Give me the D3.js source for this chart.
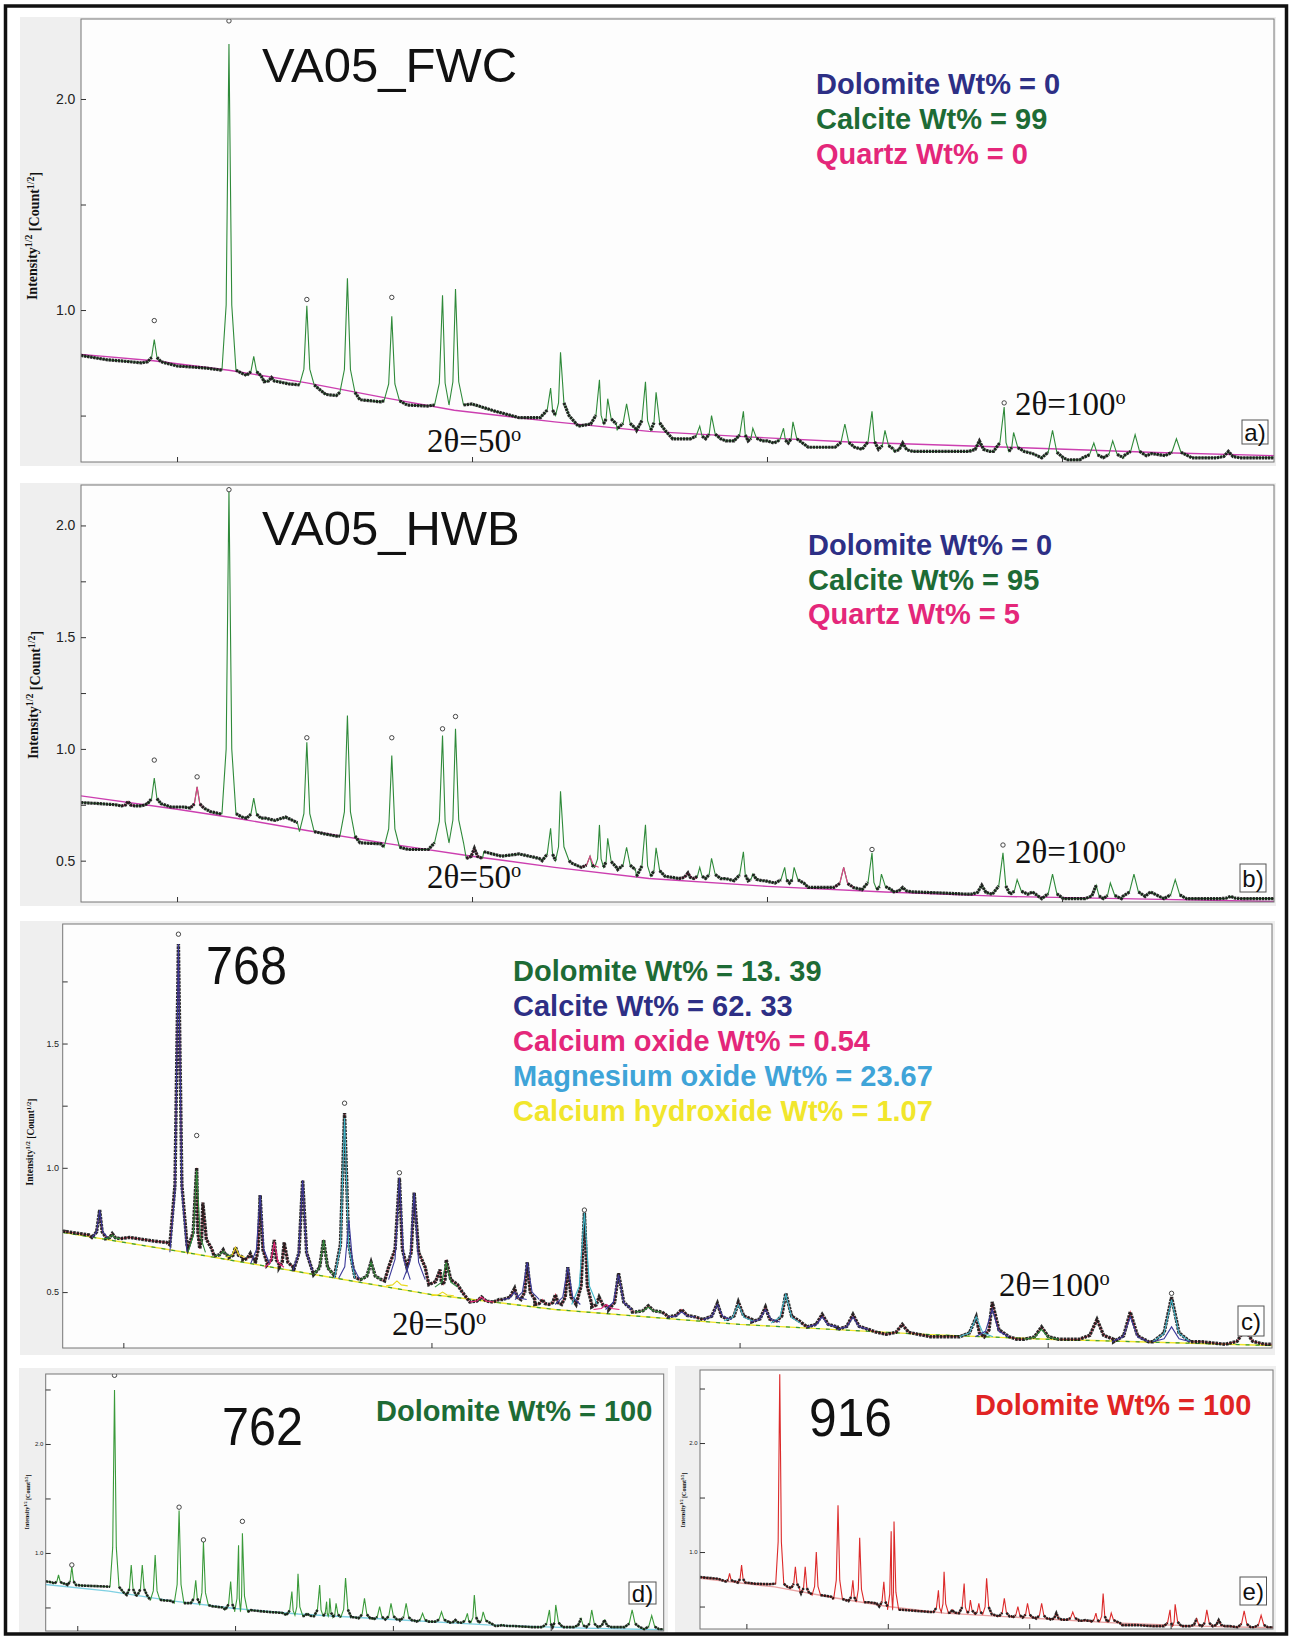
<!DOCTYPE html>
<html>
<head>
<meta charset="utf-8">
<script src="https://cdn.jsdelivr.net/npm/d3@7"></script>
<style>
  body { margin: 0; background: #fff; }
  svg text { font-family: "Liberation Sans", Arial, sans-serif; }
</style>
</head>
<body>
<div id="chart"></div>
<script>
var aBg = [[16.86,0.79],[23,0.76],[29.4,0.715],[36,0.655],[43,0.58],[48.5,0.525],[57,0.47],[65,0.425],[73,0.40],[82,0.375],[95.5,0.35],[108,0.325],[117.97,0.31]];
var aPeaks = [[23.07,0.86,0.755,0.95],[29.4,2.26,0.715,2.37],[31.5,0.78,0.69],[33.0,0.68,0.66],[36.0,1.02,0.645,1.05],
  [39.44,1.15,0.61],[43.2,0.97,0.57,1.06],[47.5,1.07,0.55],[48.6,1.10,0.55],[56.66,0.63,0.50],[57.5,0.80,0.50],
  [60.8,0.67,0.46],[61.5,0.58,0.46],[63.1,0.555,0.44],[64.7,0.66,0.43],[65.6,0.61,0.43],[69.3,0.45,0.39],[70.3,0.50,0.39],
  [73.0,0.52,0.38],[73.8,0.44,0.38],[76.4,0.44,0.37],[77.2,0.47,0.37],[81.6,0.46,0.35],[83.9,0.52,0.34],[85.0,0.43,0.34],
  [86.5,0.37,0.33],[93.0,0.38,0.33],[95.1,0.54,0.33,0.56],[95.9,0.42,0.33],[99.2,0.43,0.30],[102.7,0.37,0.30],
  [104.3,0.38,0.30],[106.2,0.41,0.31],[109.7,0.39,0.31],[114.1,0.33,0.30]];
var aTroughs = [[16.86,0.785],[19,0.765],[22,0.75],[25,0.735],[27.5,0.725],[30.5,0.70],[34.5,0.65],[37.6,0.60],[38.5,0.595],
  [40.5,0.575],[42.3,0.565],[44.5,0.55],[46.2,0.545],[50,0.555],[52,0.52],[54,0.49],[55.8,0.49],[59,0.45],[62.3,0.43],
  [67,0.39],[68.5,0.39],[71.5,0.38],[75,0.38],[78.5,0.35],[80.5,0.35],[87.5,0.33],[90.5,0.33],[92.2,0.33],[97.5,0.32],
  [100.5,0.29],[101.5,0.29],[107.6,0.32],[111,0.30],[113,0.30],[116,0.30],[117.97,0.30]];

var bBg = [[16.86,0.79],[25,0.73],[30,0.69],[36,0.635],[43,0.575],[50,0.52],[57,0.47],[65,0.42],[75,0.385],[85,0.36],[95,0.34],[105,0.33],[117.97,0.317]];
var bPeaks = [[20.85,0.765,0.745],[23.07,0.87,0.755,0.95],[26.7,0.83,0.735,0.875],[29.4,2.16,0.71,2.16],[31.5,0.78,0.69],
  [36.0,1.03,0.63,1.05],[39.44,1.15,0.61],[43.2,0.97,0.56,1.05],[47.5,1.06,0.58,1.09],[48.6,1.09,0.58,1.145],[50.2,0.555,0.51],
  [56.66,0.645,0.50],[57.5,0.81,0.50],[60.0,0.52,0.47],[60.8,0.66,0.47],[61.5,0.60,0.47],[63.1,0.56,0.46],[64.7,0.66,0.43],
  [65.6,0.557,0.43],[68.3,0.445,0.42],[69.3,0.47,0.42],[70.3,0.51,0.42],[73.0,0.54,0.41],[73.8,0.44,0.41],[76.5,0.47,0.40],
  [77.3,0.47,0.40],[81.5,0.47,0.38],[83.9,0.535,0.37,0.55],[84.7,0.44,0.37],[86.5,0.38,0.36],[93.2,0.39,0.35],
  [95.0,0.535,0.35,0.57],[96.2,0.415,0.35],[99.2,0.44,0.33],[102.9,0.39,0.33],[104.1,0.40,0.33],[106.1,0.44,0.34],
  [109.6,0.415,0.33],[114.3,0.34,0.33]];
var bTroughs = [[16.86,0.76],[18.5,0.755],[19.8,0.75],[22,0.745],[24.5,0.74],[25.6,0.74],[27.8,0.72],[28.6,0.71],[30.5,0.695],
  [32.5,0.69],[33.3,0.68],[34.2,0.695],[35.2,0.67],[37.5,0.62],[38.5,0.61],[40.5,0.58],[42.3,0.575],[44.6,0.55],[46.3,0.55],
  [49.5,0.55],[51,0.54],[52.5,0.52],[54,0.53],[55.7,0.51],[58.4,0.49],[59.3,0.49],[62.2,0.47],[67,0.425],[71.5,0.42],
  [74.8,0.41],[78.5,0.38],[80.5,0.38],[87.5,0.36],[90,0.355],[92,0.35],[97.5,0.36],[100.3,0.33],[101.8,0.33],[107.5,0.36],
  [111.5,0.33],[113,0.33],[116,0.33],[117.97,0.33]];
var bQuartz = [[20.85,0.765,0.745],[26.7,0.83,0.735],[50.2,0.555,0.51],[60.0,0.52,0.47],[68.3,0.445,0.42],[81.5,0.47,0.38]];

var cBg = [[20.08,0.74],[30,0.66],[40,0.575],[50,0.49],[60,0.43],[75,0.37],[90,0.33],[100,0.31],[118.2,0.285]];
var cPeaks = [[23.08,0.83,0.72],[24.1,0.735,0.715],[29.47,1.90,0.69,1.94],[30.95,1.00,0.675,1.13],[31.45,0.86,0.675],
  [33.1,0.67,0.645],[34.1,0.68,0.64],[35.3,0.655,0.63],[36.1,0.89,0.615],[37.25,0.71,0.61],[38.05,0.70,0.60],
  [39.55,0.95,0.585],[41.25,0.71,0.57],[42.95,1.22,0.56,1.26],[45.1,0.62,0.55],[47.4,0.96,0.60,0.98],[48.6,0.90,0.60],
  [50.7,0.59,0.53],[51.2,0.63,0.53],[54.06,0.48,0.46],[56.75,0.515,0.47],[57.77,0.62,0.47],[59.0,0.47,0.45],
  [60.06,0.49,0.45],[61.06,0.60,0.45],[62.41,0.82,0.45,0.83],[63.6,0.48,0.44],[65.18,0.576,0.43],[67.6,0.445,0.42],
  [70.3,0.43,0.40],[73.2,0.455,0.39],[74.9,0.46,0.39],[77.1,0.44,0.38],[78.75,0.495,0.38],[81.7,0.41,0.36],
  [84.2,0.41,0.35],[88.2,0.37,0.33],[94.2,0.40,0.32],[95.5,0.46,0.32],[99.5,0.36,0.31],[104.0,0.39,0.31],
  [106.7,0.42,0.30],[110.05,0.48,0.30,0.495],[116,0.35,0.29]];
var cTroughs = [[20.08,0.745],[21.5,0.735],[22.2,0.73],[25.5,0.72],[27.5,0.705],[28.5,0.70],[32.2,0.66],[40.4,0.575],
  [44.0,0.555],[46.2,0.545],[49.8,0.54],[52.5,0.50],[55.5,0.47],[66.3,0.42],[69.0,0.41],[72,0.39],[76,0.38],[80.2,0.37],
  [83,0.355],[86,0.34],[90.5,0.32],[92.3,0.32],[97.5,0.31],[101.8,0.31],[108.4,0.30],[112.5,0.30],[114.5,0.29],[118.2,0.29]];
var cCalcite = [[23.08,0.83,0.72],[29.47,1.90,0.66],[36.1,0.89,0.615],[39.55,0.95,0.585],[43.3,0.79,0.555],[47.4,0.96,0.55],
  [48.6,0.90,0.55],[56.75,0.50,0.47],[57.77,0.62,0.47],[61.06,0.60,0.45],[65.18,0.57,0.43],[70.3,0.42,0.40],[73.2,0.45,0.39],
  [77.1,0.43,0.38],[81.7,0.40,0.36],[84.2,0.40,0.35],[95.5,0.43,0.32],[106.7,0.40,0.30],[110.05,0.36,0.30]];
var cDolomite = [[24.1,0.73,0.715],[30.95,0.99,0.66],[33.1,0.665,0.645],[41.25,0.71,0.57],[45.1,0.62,0.55],[51.2,0.62,0.52],
  [67.6,0.44,0.42],[99.5,0.35,0.31]];
var cCaO = [[37.25,0.70,0.60],[54.06,0.48,0.46],[64.2,0.45,0.43]];
var cMgO = [[42.95,1.20,0.555],[62.41,0.82,0.45],[74.9,0.45,0.385],[78.75,0.49,0.375],[94.2,0.40,0.32],[110.05,0.47,0.30]];
var cCaOH = [[34.1,0.68,0.64],[47.2,0.545,0.525],[50.9,0.50,0.485]];

var dBg = [[20,0.71],[30,0.65],[40,0.56],[50,0.49],[60,0.44],[75,0.39],[90,0.34],[105,0.31],[117.9,0.295]];
var dPeaks = [[22.03,0.80,0.72],[24.14,0.875,0.706,0.89],[30.9,2.495,0.69,2.63],[33.55,0.89,0.615],[35.3,0.89,0.615],
  [37.34,0.98,0.57],[41.13,1.39,0.54,1.42],[43.77,0.75,0.54],[44.99,1.10,0.52,1.12],[49.3,0.737,0.48],[50.55,1.07,0.46],
  [51.16,1.18,0.46,1.29],[59.0,0.645,0.43],[59.97,0.81,0.43],[61.4,0.446,0.42],[63.4,0.706,0.42],[64.5,0.553,0.42],
  [65.0,0.584,0.42],[66.0,0.538,0.41],[67.5,0.77,0.41],[70.5,0.584,0.40],[72.9,0.508,0.39],[74.7,0.538,0.39],
  [77.1,0.538,0.38],[79.7,0.446,0.37],[82.7,0.46,0.37],[84.9,0.385,0.36],[86.8,0.446,0.36],[87.9,0.615,0.36],
  [89.3,0.46,0.36],[92.3,0.34,0.33],[99.8,0.477,0.32],[100.8,0.523,0.32],[104.8,0.40,0.32],[106.5,0.477,0.32],
  [108.5,0.385,0.32],[112.9,0.477,0.32],[116.0,0.425,0.30]];
var dTroughs = [[20.0,0.74],[21,0.73],[23.1,0.72],[26,0.70],[28.5,0.695],[32.3,0.64],[34.4,0.61],[36.3,0.59],[38.8,0.565],
  [40,0.56],[42.5,0.54],[46.5,0.51],[48,0.50],[52.5,0.475],[55,0.46],[57.5,0.45],[60.7,0.43],[62.3,0.42],[69,0.41],
  [71.8,0.40],[76,0.39],[78.4,0.38],[81.2,0.37],[83.8,0.37],[85.8,0.36],[91,0.34],[94,0.33],[97,0.32],[98.7,0.32],
  [102.5,0.32],[110.5,0.32],[114.5,0.31],[117.9,0.30]];

var eBg = [[16.8,0.76],[30,0.68],[40,0.585],[50,0.50],[60,0.44],[75,0.395],[90,0.35],[105,0.32],[118.1,0.305]];
var ePeaks = [[22.03,0.805,0.73],[24.15,0.88,0.72],[30.9,2.63,0.71],[33.66,0.865,0.67],[35.4,0.865,0.62],[37.36,1.00,0.605],
  [41.2,1.43,0.57],[43.83,0.74,0.55],[45.03,1.13,0.54],[49.3,0.727,0.50],[50.6,1.19,0.47],[51.1,1.28,0.47],
  [58.95,0.65,0.45],[59.95,0.82,0.45],[61.4,0.47,0.44],[63.5,0.71,0.44],[64.6,0.56,0.44],[66.1,0.53,0.43],
  [67.47,0.76,0.43],[70.6,0.575,0.41],[73.0,0.50,0.40],[74.7,0.53,0.40],[77.2,0.53,0.39],[79.8,0.44,0.38],
  [82.7,0.45,0.38],[84.9,0.376,0.37],[86.8,0.44,0.36],[88.07,0.62,0.36],[89.5,0.44,0.36],[92.5,0.33,0.33],
  [99.9,0.47,0.32],[100.8,0.52,0.32],[104.6,0.39,0.32],[106.4,0.47,0.32],[108.5,0.376,0.32],[113.0,0.46,0.31],
  [116.0,0.42,0.31]];
var eTroughs = [[16.8,0.77],[20,0.755],[23.1,0.73],[26.5,0.71],[29,0.705],[32.3,0.68],[34.5,0.64],[36.4,0.62],[38.8,0.60],
  [40,0.59],[42.5,0.56],[46.6,0.54],[48,0.53],[52.5,0.47],[55,0.46],[57.5,0.45],[60.7,0.44],[62.3,0.44],[69,0.42],
  [72,0.41],[76,0.40],[78.5,0.39],[81.2,0.38],[83.8,0.37],[85.8,0.37],[91,0.35],[94,0.33],[97,0.32],[98.7,0.32],
  [102.5,0.32],[110.5,0.32],[114.5,0.31],[118.1,0.31]];

var xTicks = [25, 50, 75, 100];
var legendA = ["Dolomite Wt% = 0", "Calcite Wt% = 99", "Quartz Wt% = 0"];
var legendB = ["Dolomite Wt% = 0", "Calcite Wt% = 95", "Quartz Wt% = 5"];
var legendC = ["Dolomite Wt% = 13. 39", "Calcite Wt% = 62. 33", "Calcium oxide Wt% = 0.54",
  "Magnesium oxide Wt% = 23.67", "Calcium hydroxide Wt% = 1.07"];
var legendD = ["Dolomite Wt% = 100"];
var legendE = ["Dolomite Wt% = 100"];

// ---- layout ----
var navy = "#2d2f85", dkGreen = "#1d6b35", pink = "#e4277a", sky = "#3fa4d8", yellow = "#f1e62c";

var panels = [
  { id: "a)", grey: [20, 17, 1256, 449], frame: [81, 19, 1274, 462], xDom: [16.86, 117.97], yDom: [0.28, 2.379],
    peaks: aPeaks, troughs: aTroughs, bg: aBg, wRange: [0.55, 1.0], calc: "#2f8a3a", bgColor: "#cc3fb0",
    yTicks: [0.5, 1, 1.5, 2], yLabels: [1, 2], tickFont: 14, steep: 2.5, obsW: 3.2, dash: "2.4 0.7",
    yTitle: { x: 34, y: 236, fs: 14 }, title: { t: "VA05_FWC", x: 262, y: 82, fs: 49 },
    legend: { lines: legendA, colors: [navy, dkGreen, pink], x: 816, y: 94, dy: 35, fs: 29 },
    theta: [{ t: "50", x: 427, y: 452 }, { t: "100", x: 1015, y: 415 }], box: [1242, 420, 26, 24, 24] },
  { id: "b)", grey: [20, 483, 1256, 423], frame: [81, 485, 1274, 902], xDom: [16.86, 117.97], yDom: [0.315, 2.181],
    peaks: bPeaks, troughs: bTroughs, bg: bBg, wRange: [0.55, 1.0], calc: "#2f8a3a", bgColor: "#cc3fb0",
    overlays: [{ data: bQuartz, color: "#e0408a" }],
    yTicks: [0.5, 0.75, 1, 1.25, 1.5, 1.75, 2], yLabels: [0.5, 1, 1.5, 2], tickFont: 14, steep: 2.5, obsW: 3.2, dash: "2.4 0.7",
    yTitle: { x: 35, y: 695, fs: 14 }, title: { t: "VA05_HWB", x: 262, y: 545, fs: 49 },
    legend: { lines: legendB, colors: [navy, dkGreen, pink], x: 808, y: 555, dy: 34.5, fs: 29 },
    theta: [{ t: "50", x: 427, y: 888 }, { t: "100", x: 1015, y: 863 }], box: [1240, 864, 26, 28, 24] },
  { id: "c)", grey: [20, 921, 1255, 434], frame: [62.7, 924, 1272, 1348], xDom: [20.08, 118.2], yDom: [0.275, 1.981],
    peaks: cPeaks, troughs: cTroughs, bg: cBg, wRange: [0.6, 1.6], calc: "#e2405e", bgColor: yellow, bgDash: "#3a9a3a",
    overlays: [{ data: cCaOH, color: "#e8d81c" }, { data: cCaO, color: "#e4277a" }, { data: cDolomite, color: "#2f8a3a" },
               { data: cMgO, color: "#3fb7c9" }, { data: cCalcite, color: "#3c3a9a" }], overlaysOnTop: true,
    yTicks: [0.5, 0.75, 1, 1.25, 1.5, 1.75], yLabels: [0.5, 1, 1.5], tickFont: 9, steep: 1000, obsW: 3.4, dash: "2.6 0.9",
    yTitle: { x: 31, y: 1142, fs: 9.5 }, title: { t: "768", x: 206, y: 984, fs: 54, len: 81 },
    legend: { lines: legendC, colors: [dkGreen, navy, pink, sky, yellow], x: 513, y: 981, dy: 35, fs: 29 },
    theta: [{ t: "50", x: 392, y: 1335 }, { t: "100", x: 999, y: 1296 }], box: [1238, 1306, 26, 30, 24] },
  { id: "d)", grey: [19, 1368, 649, 266], frame: [45.7, 1374, 663.7, 1631], xDom: [20.0, 117.9], yDom: [0.284, 2.642],
    peaks: dPeaks, troughs: dTroughs, bg: dBg, wRange: [0.65, 1.2], calc: "#3a9a3a", bgColor: "#7fd0e2",
    yTicks: [0.5, 1, 1.5, 2, 2.5], yLabels: [1, 2], tickFont: 6, steep: 2.5, obsW: 2.6, dash: "2.4 0.7",
    yTitle: { x: 28, y: 1502, fs: 6 }, title: { t: "762", x: 222, y: 1445, fs: 54, len: 81 },
    legend: { lines: legendD, colors: [dkGreen], x: 376, y: 1421, dy: 0, fs: 29 },
    theta: [], box: [629, 1582, 27, 22, 24] },
  { id: "e)", grey: [675, 1366, 601, 268], frame: [700, 1370, 1273, 1629], xDom: [16.8, 118.1], yDom: [0.294, 2.67],
    peaks: ePeaks, troughs: eTroughs, bg: eBg, wRange: [0.65, 1.2], calc: "#dc2a2a", bgColor: "#e9a3a3",
    yTicks: [0.5, 1, 1.5, 2, 2.5], yLabels: [1, 2], tickFont: 6, steep: 2.5, obsW: 2.6, dash: "2.4 0.7",
    yTitle: { x: 684, y: 1500, fs: 6 }, title: { t: "916", x: 809, y: 1436, fs: 54, len: 83 },
    legend: { lines: legendE, colors: ["#e02424"], x: 975, y: 1415, dy: 0, fs: 29 },
    theta: [], box: [1240, 1577, 26.5, 28, 24] }
];

var svg = d3.select("#chart").append("svg")
  .attr("width", 1290)
  .attr("height", 1638);

svg.append("rect").attr("width", 1290).attr("height", 1638).attr("fill", "#fff");

// one peak drawn as a narrow spike between its feet
function spike(p, lo, hi) {
  var s = p[2] + (p[1] - p[2]) * 0.2;
  return [[lo, p[2]], [p[0] - (p[0] - lo) * 0.4, s], [p[0], p[1]], [p[0] + (hi - p[0]) * 0.4, s], [hi, p[2]]];
}

function buildProfile(peaks, troughs, w) {
  var sorted = peaks.slice().sort(function(a, b) { return a[0] - b[0]; });
  var pts = [], spans = [];
  sorted.forEach(function(p, i) {
    var lo = p[0] - w(p[0]), hi = p[0] + w(p[0]);
    if (i > 0) lo = Math.max(lo, (p[0] + sorted[i - 1][0]) / 2);
    if (i < sorted.length - 1) hi = Math.min(hi, (p[0] + sorted[i + 1][0]) / 2);
    spans.push([lo, hi]);
    pts = pts.concat(spike(p, lo, hi));
  });
  troughs.forEach(function(t) {
    var inside = spans.some(function(s) { return t[0] > s[0] - 0.05 && t[0] < s[1] + 0.05; });
    if (!inside) pts.push(t);
  });
  return pts.sort(function(a, b) { return a[0] - b[0]; });
}

panels.forEach(function(p, k) {
  var f = p.frame;
  var x = d3.scaleLinear().domain(p.xDom).range([f[0], f[2]]);
  var y = d3.scaleLinear().domain(p.yDom).range([f[3], f[1]]);
  var w = d3.scaleLinear().domain([20, 118]).range(p.wRange);
  var line = d3.line().x(function(d) { return x(d[0]); }).y(function(d) { return y(d[1]); });

  var g = svg.append("g");
  g.append("rect").attr("x", p.grey[0]).attr("y", p.grey[1]).attr("width", p.grey[2]).attr("height", p.grey[3])
    .attr("fill", "#efefef");
  g.append("rect").attr("x", f[0]).attr("y", f[1]).attr("width", f[2] - f[0]).attr("height", f[3] - f[1])
    .attr("fill", "#fdfdfd");

  svg.append("clipPath").attr("id", "clip" + k)
    .append("rect").attr("x", f[0]).attr("y", f[1]).attr("width", f[2] - f[0]).attr("height", f[3] - f[1]);
  var plot = g.append("g").attr("clip-path", "url(#clip" + k + ")");

  var prof = buildProfile(p.peaks, p.troughs, w);

  // background
  plot.append("path").datum(p.bg).attr("d", line).attr("fill", "none")
    .attr("stroke", p.bgColor).attr("stroke-width", 1.4);
  if (p.bgDash) {
    plot.append("path").datum(p.bg).attr("d", line).attr("fill", "none")
      .attr("stroke", p.bgDash).attr("stroke-width", 1.2).attr("stroke-dasharray", "4 6");
  }

  // calculated profile
  plot.append("path").datum(prof).attr("d", line).attr("fill", "none")
    .attr("stroke", p.calc).attr("stroke-width", 1.1);

  // phase contributions
  function drawOverlays() {
    (p.overlays || []).forEach(function(o) {
      plot.selectAll(null).data(o.data).enter().append("path")
        .attr("d", function(d) { return line(spike(d, d[0] - w(d[0]), d[0] + w(d[0]))); })
        .attr("fill", "none")
        .attr("stroke", o.color)
        .attr("stroke-width", 1.1);
    });
  }
  if (!p.overlaysOnTop) drawOverlays();

  // observed points: beaded dark trace, left off on the steep peak flanks
  var runs = [], run = [prof[0]];
  for (var i = 1; i < prof.length; i++) {
    var dx = Math.abs(x(prof[i][0]) - x(prof[i - 1][0]));
    var dy = Math.abs(y(prof[i][1]) - y(prof[i - 1][1]));
    if (dy > p.steep * Math.max(dx, 0.01)) {
      if (run.length > 1) runs.push(run);
      run = [prof[i]];
    } else {
      run.push(prof[i]);
    }
  }
  if (run.length > 1) runs.push(run);
  plot.selectAll(".obs").data(runs).enter().append("path")
    .attr("class", "obs")
    .attr("d", line)
    .attr("fill", "none")
    .attr("stroke", "#151515")
    .attr("stroke-width", p.obsW)
    .attr("stroke-opacity", 0.9)
    .attr("stroke-dasharray", p.dash);

  if (p.overlaysOnTop) drawOverlays();

  // observed tops of the peaks
  plot.selectAll(".top").data(p.peaks.filter(function(d) { return d[3] != null; })).enter().append("circle")
    .attr("cx", function(d) { return x(d[0]); })
    .attr("cy", function(d) { return y(d[3]); })
    .attr("r", 2.2)
    .attr("fill", "#fff")
    .attr("stroke", "#333")
    .attr("stroke-width", 0.9);

  g.append("rect").attr("x", f[0]).attr("y", f[1]).attr("width", f[2] - f[0]).attr("height", f[3] - f[1])
    .attr("fill", "none").attr("stroke", "#777").attr("stroke-width", 1);

  // axes
  var xAxis = g.append("g").attr("transform", "translate(0," + f[3] + ")")
    .call(d3.axisBottom(x).tickValues(xTicks).tickSize(-5).tickFormat(""));
  xAxis.select(".domain").remove();
  xAxis.selectAll("line").attr("stroke", "#333");

  var yAxis = g.append("g").attr("transform", "translate(" + f[0] + ",0)")
    .call(d3.axisLeft(y).tickValues(p.yTicks).tickSize(-5).tickPadding(p.tickFont * 0.4)
      .tickFormat(function(v) { return p.yLabels.indexOf(v) >= 0 ? d3.format(".1f")(v) : ""; }));
  yAxis.select(".domain").remove();
  yAxis.selectAll("line").attr("stroke", "#333");
  yAxis.selectAll("text").attr("font-family", "Liberation Sans, Arial, sans-serif")
    .style("font-size", p.tickFont + "px").attr("fill", "#222");

  var yt = g.append("text")
    .attr("transform", "translate(" + p.yTitle.x + "," + p.yTitle.y + ") rotate(-90)")
    .attr("text-anchor", "middle")
    .attr("dominant-baseline", "middle")
    .style("font-family", "Liberation Serif, Times New Roman, serif")
    .style("font-weight", "bold")
    .style("font-size", p.yTitle.fs + "px")
    .attr("fill", "#111");
  yt.append("tspan").text("Intensity");
  yt.append("tspan").attr("dy", "-0.4em").style("font-size", "70%").text("1/2");
  yt.append("tspan").attr("dy", "0.4em").text(" [Count");
  yt.append("tspan").attr("dy", "-0.4em").style("font-size", "70%").text("1/2");
  yt.append("tspan").attr("dy", "0.4em").text("]");

  // sample name
  var tt = g.append("text").attr("x", p.title.x).attr("y", p.title.y)
    .style("font-size", p.title.fs + "px").attr("fill", "#111").text(p.title.t);
  if (p.title.len) tt.attr("textLength", p.title.len).attr("lengthAdjust", "spacingAndGlyphs");

  // phase fractions
  g.selectAll(".leg").data(p.legend.lines).enter().append("text")
    .attr("x", p.legend.x)
    .attr("y", function(d, i) { return p.legend.y + i * p.legend.dy; })
    .style("font-size", p.legend.fs + "px")
    .style("font-weight", "bold")
    .attr("fill", function(d, i) { return p.legend.colors[i]; })
    .text(function(d) { return d; });

  // 2theta markers
  p.theta.forEach(function(t) {
    var tx = g.append("text").attr("x", t.x).attr("y", t.y)
      .style("font-family", "Liberation Serif, Times New Roman, serif")
      .style("font-size", "33px").attr("fill", "#111");
    tx.append("tspan").text("2\u03b8=" + t.t);
    tx.append("tspan").attr("dy", "-0.55em").style("font-size", "62%").text("o");
  });

  // panel letter
  var b = p.box;
  g.append("rect").attr("x", b[0]).attr("y", b[1]).attr("width", b[2]).attr("height", b[3])
    .attr("fill", "#fff").attr("stroke", "#555").attr("stroke-width", 1);
  g.append("text").attr("x", b[0] + b[2] / 2).attr("y", b[1] + b[3] / 2)
    .attr("text-anchor", "middle").attr("dominant-baseline", "central")
    .style("font-size", b[4] + "px").attr("fill", "#111").text(p.id);
});

// outer frame of the figure
svg.append("rect").attr("x", 5.5).attr("y", 6).attr("width", 1281).attr("height", 1628)
  .attr("fill", "none").attr("stroke", "#111").attr("stroke-width", 3.5);
</script>
</body>
</html>
